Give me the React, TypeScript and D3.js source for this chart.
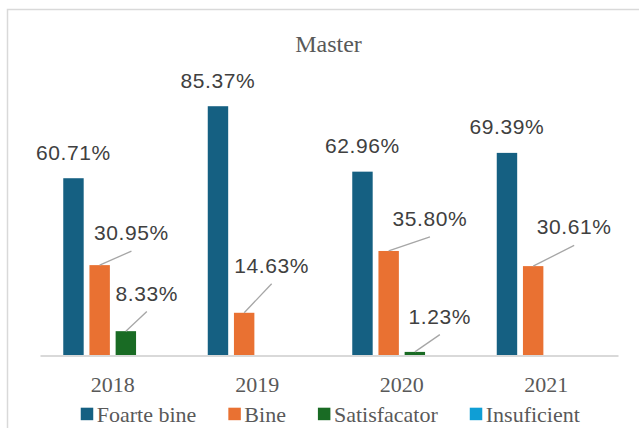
import React, { useEffect, useRef } from "react";
import * as d3 from "d3";

const categories = ["2018", "2019", "2020", "2021"];
const seriesNames = ["Foarte bine", "Bine", "Satisfacator", "Insuficient"];
const foarteBine = [60.71, 85.37, 62.96, 69.39];
const bine = [30.95, 14.63, 35.8, 30.61];
const satisfacator = [8.33, 0, 1.23, 0];
const insuficient = [0, 0, 0, 0];
const seriesValues = [foarteBine, bine, satisfacator, insuficient];
const colors = ["#156082", "#E97132", "#196B24", "#0F9ED5"];

// label placement (layout only): [dx from bar centre, dy of baseline from bar top, leader line]
const labelLayout: [number, number, boolean][][] = [
  [[0, -18.5, false], [0, -18.5, false], [0, -18.5, false], [0, -18.5, false]],
  [[31.8, -25, true], [27.5, -40, true], [41.3, -25, true], [41, -31.7, true]],
  [[21, -30.6, true], [0, 0, false], [25, -28.3, true], [0, 0, false]],
  [[0, 0, false], [0, 0, false], [0, 0, false], [0, 0, false]],
];

const W = 639;
const H = 428;
const SERIF = "'Liberation Serif', 'Times New Roman', serif";
const SANS = "'Liberation Sans', Arial, sans-serif";

export default function App() {
  const ref = useRef<SVGSVGElement | null>(null);

  useEffect(() => {
    const svg = d3.select(ref.current);
    svg.selectAll("*").remove();

    // chart border
    svg.append("rect").attr("x", 7.5).attr("y", 9.5).attr("width", 700).attr("height", 500)
      .attr("fill", "#fff").attr("stroke", "#d9d9d9").attr("stroke-width", 1.5);

    svg.append("text").attr("x", 328.5).attr("y", 52).attr("text-anchor", "middle")
      .style("font-family", SERIF).style("font-size", "24px")
      .attr("fill", "#595959").text("Master");

    const x0 = d3.scaleBand<string>().domain(categories).range([40.5, 618.5])
      .paddingInner(0.315).paddingOuter(0.1575);
    const x1 = d3.scaleBand<string>().domain(seriesNames).range([0, x0.bandwidth()])
      .paddingInner(0.22).paddingOuter(0);
    const y = d3.scaleLinear().domain([0, 100]).range([355.5, 63.5]);

    const g = svg.append("g");
    seriesNames.forEach((s, si) => {
      categories.forEach((c, ci) => {
        const v = seriesValues[si][ci];
        if (v <= 0) return;
        g.append("rect")
          .attr("x", (x0(c) as number) + (x1(s) as number))
          .attr("y", y(v))
          .attr("width", x1.bandwidth())
          .attr("height", y(0) - y(v))
          .attr("fill", colors[si]);
      });
    });

    // axis line
    svg.append("line").attr("x1", 40.5).attr("x2", 618.5).attr("y1", 356).attr("y2", 356)
      .attr("stroke", "#d9d9d9").attr("stroke-width", 2);

    // category labels
    categories.forEach((c) => {
      svg.append("text").attr("x", (x0(c) as number) + x0.bandwidth() / 2).attr("y", 391.5)
        .attr("text-anchor", "middle").style("font-family", SERIF)
        .style("font-size", "22px").attr("fill", "#595959").text(c);
    });

    // data labels
    seriesNames.forEach((s, si) => {
      categories.forEach((c, ci) => {
        const v = seriesValues[si][ci];
        if (v <= 0) return;
        const [dx, dy, leader] = labelLayout[si][ci];
        const cx = (x0(c) as number) + (x1(s) as number) + x1.bandwidth() / 2;
        const top = y(v);
        const tx = cx + dx;
        const ty = top + dy;
        if (leader) {
          svg.append("line").attr("x1", cx).attr("y1", top).attr("x2", tx).attr("y2", ty + 11)
            .attr("stroke", "#a6a6a6").attr("stroke-width", 1.3);
        }
        svg.append("text").attr("x", tx).attr("y", ty).attr("text-anchor", "middle")
          .style("font-family", SANS).style("font-size", "21px")
          .style("letter-spacing", "0.6px")
          .attr("fill", "#404040").text(v.toFixed(2) + "%");
      });
    });

    // legend
    const lg = svg.append("g");
    let xpos = 0;
    seriesNames.forEach((s, si) => {
      const t = lg.append("text").attr("y", 421.7)
        .style("font-family", SERIF).style("font-size", "22px")
        .attr("fill", "#595959").text(s);
      const w = (t.node() as SVGTextElement).getComputedTextLength();
      t.attr("x", xpos + 16);
      lg.append("rect").attr("x", xpos).attr("y", 407.7).attr("width", 12.5).attr("height", 12.5)
        .attr("fill", colors[si]);
      xpos += 16 + w + (si < seriesNames.length - 1 ? 32 : 0);
    });
    lg.attr("transform", `translate(${330.3 - xpos / 2},0)`);
  }, []);

  return (
    <svg
      ref={ref}
      width={W}
      height={H}
      style={{ position: "absolute", left: 0, top: 0, background: "#fff" }}
    />
  );
}
